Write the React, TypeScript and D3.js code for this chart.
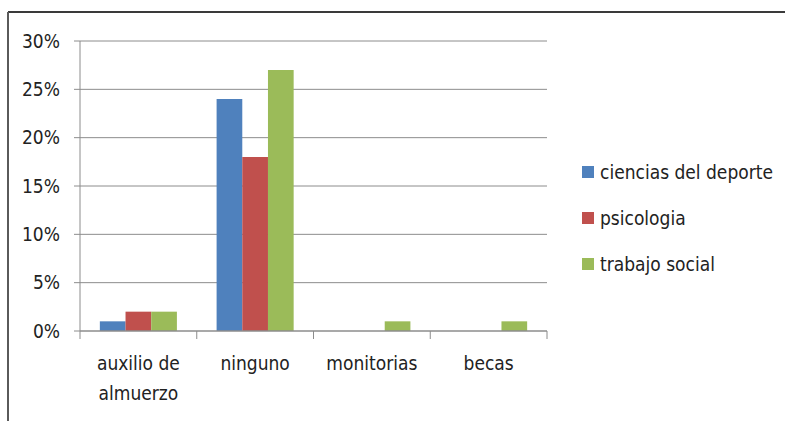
import React from "react";
import * as d3 from "d3";

const categories = ["auxilio de almuerzo", "ninguno", "monitorias", "becas"];
const categoryLines = [["auxilio de", "almuerzo"], ["ninguno"], ["monitorias"], ["becas"]];
const seriesNames = ["ciencias del deporte", "psicologia", "trabajo social"];
const cienciasDelDeporte = [1, 24, 0, 0];
const psicologia = [2, 18, 0, 0];
const trabajoSocial = [2, 27, 1, 1];
const yTicks = [0, 5, 10, 15, 20, 25, 30];
const colors = ["#4F81BD", "#C0504D", "#9BBB59"];

const W = 785;
const H = 421;
const FONT = "'Liberation Sans Narrow', 'DejaVu Sans Condensed', sans-serif";

export default function App() {
  const series = [cienciasDelDeporte, psicologia, trabajoSocial];
  const plot = { left: 80, right: 547, top: 41, bottom: 331 };
  const x = d3.scaleBand<string>().domain(categories).range([plot.left, plot.right]).paddingInner(0).paddingOuter(0);
  const bw = x.bandwidth();
  const groupPad = bw * 0.17;
  const x1 = d3
    .scaleBand<string>()
    .domain(seriesNames)
    .range([groupPad, bw - groupPad])
    .padding(0);
  const y = d3.scaleLinear().domain([0, 30]).range([plot.bottom, plot.top]);

  return (
    <div style={{ position: "absolute", left: 0, top: 0 }}>
      <svg width={W} height={H} style={{ display: "block" }}>
        <rect x={0} y={0} width={W} height={H} fill="#fff" />
        {/* outer border */}
        <line x1={8} y1={12} x2={W} y2={12} stroke="#3a3a3a" strokeWidth={2} />
        <line x1={8} y1={12} x2={8} y2={H} stroke="#5a5a5a" strokeWidth={2} />
        {/* gridlines */}
        {yTicks.map((t) => (
          <g key={t}>
            {t > 0 && (
              <line x1={plot.left} x2={plot.right} y1={y(t)} y2={y(t)} stroke="#8c8c8c" strokeWidth={1} />
            )}
            <line x1={plot.left - 6} x2={plot.left} y1={y(t)} y2={y(t)} stroke="#8c8c8c" strokeWidth={1} />
            <text
              x={60}
              y={y(t)}
              dy="0.35em"
              textAnchor="end"
              fontFamily={FONT}
              fontSize={19}
              fill="#222"
            >
              {t}%
            </text>
          </g>
        ))}
        {/* y axis */}
        <line x1={plot.left} x2={plot.left} y1={plot.top} y2={plot.bottom} stroke="#8c8c8c" strokeWidth={1} />
        {/* bars */}
        {categories.map((c, i) => (
          <g key={c}>
            {series.map((s, j) =>
              s[i] > 0 ? (
                <rect
                  key={j}
                  x={(x(c) as number) + (x1(seriesNames[j]) as number)}
                  y={y(s[i])}
                  width={x1.bandwidth()}
                  height={y(0) - y(s[i])}
                  fill={colors[j]}
                />
              ) : null
            )}
          </g>
        ))}
        {/* x axis */}
        <line x1={plot.left} x2={plot.right} y1={plot.bottom} y2={plot.bottom} stroke="#8c8c8c" strokeWidth={1.5} />
        {categories.map((c) => (
          <line
            key={"t" + c}
            x1={x(c) as number}
            x2={x(c) as number}
            y1={plot.bottom}
            y2={plot.bottom + 8}
            stroke="#8c8c8c"
          />
        ))}
        <line x1={plot.right} x2={plot.right} y1={plot.bottom} y2={plot.bottom + 8} stroke="#8c8c8c" />
        {categories.map((c, i) => (
          <text
            key={"l" + c}
            x={(x(c) as number) + bw / 2}
            textAnchor="middle"
            fontFamily={FONT}
            fontSize={19}
            fill="#222"
          >
            {categoryLines[i].map((ln, k) => (
              <tspan key={k} x={(x(c) as number) + bw / 2} y={370 + k * 30}>
                {ln}
              </tspan>
            ))}
          </text>
        ))}
        {/* legend */}
        {seriesNames.map((n, j) => (
          <g key={n} transform={`translate(582, ${166 + j * 46})`}>
            <rect x={0} y={0} width={12} height={12} fill={colors[j]} />
            <text x={18} y={6} dy="0.35em" fontFamily={FONT} fontSize={19} fill="#222">
              {n}
            </text>
          </g>
        ))}
      </svg>
    </div>
  );
}
